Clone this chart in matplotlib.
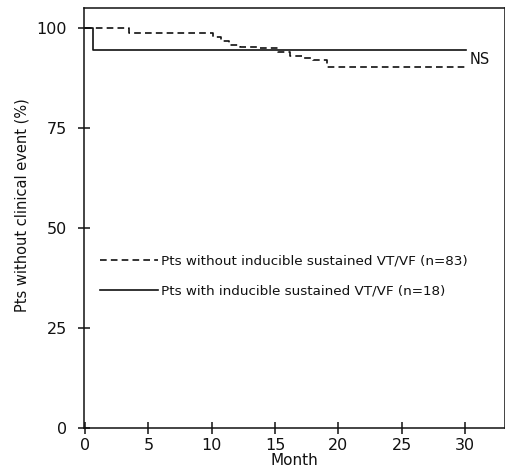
import matplotlib.pyplot as plt

# Kaplan-Meier style event-free curves (months, % without clinical event)
months_no_vt = [0, 3.5, 10.1, 10.7, 11.4, 12.2, 13.6, 15.2, 16.2, 17.1, 18.0, 19.1, 30.0]
surv_no_vt = [100, 98.8, 97.8, 96.8, 95.8, 95.2, 95.0, 94.0, 93.0, 92.5, 92.0, 90.3, 90.3]

months_vt = [0, 0.65, 30.1]
surv_vt = [100, 94.4, 94.4]

label_no_vt = "Pts without inducible sustained VT/VF (n=83)"
label_vt = "Pts with inducible sustained VT/VF (n=18)"

x_ticks = [0, 5, 10, 15, 20, 25, 30]
y_ticks = [0, 25, 50, 75, 100]

ink = "#111111"

fig = plt.figure(figsize=(5.06, 4.75), dpi=100)
ax = fig.add_axes([0.166, 0.099, 0.832, 0.884])

ax.step(months_no_vt, surv_no_vt, where="post", color=ink, lw=1.2,
        dashes=(4, 2.5), label=label_no_vt)
ax.step(months_vt, surv_vt, where="post", color=ink, lw=1.2, label=label_vt)

ax.text(30.35, 92.2, "NS", fontsize=10.5, color=ink, va="center", ha="left")

ax.set_xlim(-0.08, 33.15)
ax.set_ylim(0, 105)
ax.set_xticks(x_ticks)
ax.set_yticks(y_ticks)
ax.tick_params(direction="inout", length=9, width=1.1, color=ink,
               labelsize=11.5, labelcolor=ink)
ax.tick_params(axis="x", pad=3)
ax.tick_params(axis="y", pad=8)
for s in ax.spines.values():
    s.set_linewidth(1.1)
    s.set_color(ink)

ax.set_xlabel("Month", fontsize=11, color=ink, labelpad=0)
ax.set_ylabel("Pts without clinical event (%)", fontsize=10.5, color=ink)
ax.yaxis.set_label_coords(-0.13, 0.531)

leg = ax.legend(loc="upper left", bbox_to_anchor=(0.025, 0.425),
                frameon=False, prop={"size": 9.7},
                handlelength=4.3, handletextpad=0.2, labelspacing=1.25,
                borderaxespad=0)
for t in leg.get_texts():
    t.set_color(ink)

fig.savefig("out.png", dpi=100)
